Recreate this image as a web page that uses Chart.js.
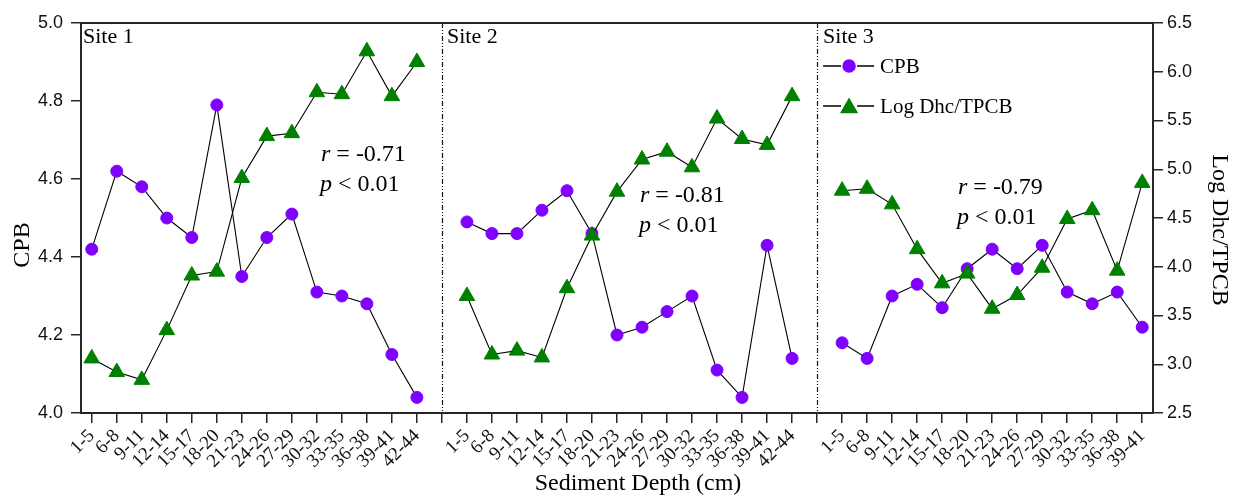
<!DOCTYPE html>
<html>
<head>
<meta charset="utf-8">
<script src="https://cdn.jsdelivr.net/npm/chart.js@4.4.1/dist/chart.umd.min.js"></script>
<style>
    body { margin: 0; background: #fff; }
    canvas { display: block; }
</style>
</head>
<body>
<canvas id="depthChart" width="1243" height="500"></canvas>
<script>
// depth intervals per site (cm)
const site1Labels = ['1-5', '6-8', '9-11', '12-14', '15-17', '18-20', '21-23', '24-26', '27-29', '30-32', '33-35', '36-38', '39-41', '42-44'];
const site2Labels = ['1-5', '6-8', '9-11', '12-14', '15-17', '18-20', '21-23', '24-26', '27-29', '30-32', '33-35', '36-38', '39-41', '42-44'];
const site3Labels = ['1-5', '6-8', '9-11', '12-14', '15-17', '18-20', '21-23', '24-26', '27-29', '30-32', '33-35', '36-38', '39-41'];

// CPB (left axis)
const cpbSite1 = [4.42, 4.62, 4.58, 4.50, 4.45, 4.79, 4.35, 4.45, 4.51, 4.31, 4.30, 4.28, 4.15, 4.04];
const cpbSite2 = [4.49, 4.46, 4.46, 4.52, 4.57, 4.46, 4.20, 4.22, 4.26, 4.30, 4.11, 4.04, 4.43, 4.14];
const cpbSite3 = [4.18, 4.14, 4.30, 4.33, 4.27, 4.37, 4.42, 4.37, 4.43, 4.31, 4.28, 4.31, 4.22];

// Log Dhc/TPCB (right axis)
const logSite1 = [3.06, 2.92, 2.84, 3.35, 3.91, 3.95, 4.91, 5.34, 5.37, 5.79, 5.77, 6.21, 5.75, 6.10];
const logSite2 = [3.70, 3.10, 3.14, 3.07, 3.78, 4.32, 4.77, 5.10, 5.18, 5.02, 5.52, 5.31, 5.25, 5.75];
const logSite3 = [4.78, 4.80, 4.64, 4.18, 3.83, 3.93, 3.57, 3.71, 3.99, 4.49, 4.58, 3.96, 4.86];

const siteNames = ['Site 1', 'Site 2', 'Site 3'];
const rValues = ['-0.71', '-0.81', '-0.79'];
const pValues = ['0.01', '0.01', '0.01'];

const cpbTicks = [4.0, 4.2, 4.4, 4.6, 4.8, 5.0];
const logTicks = [2.5, 3.0, 3.5, 4.0, 4.5, 5.0, 5.5, 6.0, 6.5];

const PURPLE = '#8000ff';
const GREEN = '#008000';
const AXIS = '#262626';
const SERIF = '"Liberation Serif", "Times New Roman", serif';
const SANS = '"Liberation Sans", Arial, sans-serif';

// one slot per depth, plus an empty slot where the sites are split
const xLabels = [...site1Labels, '', ...site2Labels, '', ...site3Labels];
const dividers = [site1Labels.length, site1Labels.length + 1 + site2Labels.length];
const siteStarts = [0, dividers[0] + 1, dividers[1] + 1];

function joinSites(a, b, c) {
    const out = [];
    [a, b, c].forEach((vals, s) => {
        vals.forEach((v, i) => out.push({ x: siteStarts[s] + i, y: v }));
        if (s < 2) out.push({ x: dividers[s], y: null });
    });
    return out;
}

function drawRP(ctx, x, y, letter, rest) {
    ctx.font = 'italic 24px ' + SERIF;
    ctx.fillText(letter, x, y);
    const w = ctx.measureText(letter).width;
    ctx.font = '24px ' + SERIF;
    ctx.fillText(rest, x + w, y);
}

const panelPlugin = {
    id: 'panels',
    beforeDatasetsDraw(chart) {
        const { ctx, chartArea: a, scales } = chart;
        ctx.save();
        ctx.strokeStyle = '#111';
        ctx.lineWidth = 1.2;
        ctx.setLineDash([5, 2, 1, 2, 1, 2]);
        dividers.forEach(d => {
            const px = Math.round(scales.x.getPixelForValue(d)) + 0.5;
            ctx.beginPath();
            ctx.moveTo(px, a.top);
            ctx.lineTo(px, a.bottom);
            ctx.stroke();
        });
        ctx.restore();
    },
    afterDraw(chart) {
        const { ctx, chartArea: a, scales } = chart;
        ctx.save();

        // top frame line
        ctx.strokeStyle = AXIS;
        ctx.lineWidth = 2;
        ctx.beginPath();
        ctx.moveTo(a.left, a.top);
        ctx.lineTo(a.right, a.top);
        ctx.stroke();

        ctx.fillStyle = '#000';
        ctx.textBaseline = 'alphabetic';
        ctx.textAlign = 'left';

        // site names
        ctx.font = '22px ' + SERIF;
        const nameX = [a.left + 2, scales.x.getPixelForValue(dividers[0]) + 5, scales.x.getPixelForValue(dividers[1]) + 6];
        siteNames.forEach((n, i) => ctx.fillText(n, nameX[i], a.top + 20));

        // correlation notes
        const notePos = [[321, 161], [640, 202], [958, 194]];
        notePos.forEach(([x, y], i) => {
            drawRP(ctx, x, y, 'r', ' = ' + rValues[i]);
            drawRP(ctx, x - 1, y + 30, 'p', ' < ' + pValues[i]);
        });

        // legend inside the site 3 panel
        const lx = scales.x.getPixelForValue(dividers[1]) + 6;
        const rows = [
            { y: 66, label: 'CPB', style: 'circle', radius: 6, color: PURPLE },
            { y: 106, label: 'Log Dhc/TPCB', style: 'triangle', radius: 9, color: GREEN }
        ];
        ctx.font = '21px ' + SERIF;
        ctx.textBaseline = 'middle';
        rows.forEach(r => {
            ctx.strokeStyle = '#000';
            ctx.lineWidth = 1.5;
            ctx.beginPath();
            ctx.moveTo(lx, r.y); ctx.lineTo(lx + 18, r.y);
            ctx.moveTo(lx + 34, r.y); ctx.lineTo(lx + 51, r.y);
            ctx.stroke();
            ctx.fillStyle = r.color;
            ctx.strokeStyle = r.color;
            const cy = r.style === 'triangle' ? r.y + 2 : r.y;
            Chart.helpers.drawPoint(ctx, { pointStyle: r.style, radius: r.radius, borderWidth: 1, rotation: 0 }, lx + 26, cy);
            ctx.fillStyle = '#000';
            ctx.fillText(r.label, lx + 57, r.y + 1);
        });

        // axis titles
        ctx.textBaseline = 'alphabetic';
        ctx.textAlign = 'center';
        ctx.font = '24px ' + SERIF;
        ctx.fillText('Sediment Depth (cm)', (a.left + a.right) / 2 + 21, 490);

        ctx.save();
        ctx.translate(29, (a.top + a.bottom) / 2 + 27);
        ctx.rotate(-Math.PI / 2);
        ctx.fillText('CPB', 0, 0);
        ctx.restore();

        ctx.save();
        ctx.translate(1213, (a.top + a.bottom) / 2 + 12);
        ctx.rotate(Math.PI / 2);
        ctx.fillText('Log Dhc/TPCB', 0, 0);
        ctx.restore();

        ctx.restore();
    }
};

const ctx = document.getElementById('depthChart').getContext('2d');

const chart = new Chart(ctx, {
    type: 'line',
    data: {
        datasets: [{
            label: 'Log Dhc/TPCB',
            data: joinSites(logSite1, logSite2, logSite3),
            yAxisID: 'y2',
            order: 0,
            borderColor: '#000',
            borderWidth: 1.1,
            pointStyle: 'triangle',
            pointRadius: 9,
            pointBackgroundColor: GREEN,
            pointBorderColor: GREEN,
            pointBorderWidth: 1,
            spanGaps: false,
            tension: 0
        }, {
            label: 'CPB',
            data: joinSites(cpbSite1, cpbSite2, cpbSite3),
            yAxisID: 'y',
            order: 1,
            borderColor: '#000',
            borderWidth: 1.1,
            pointStyle: 'circle',
            pointRadius: 6,
            pointBackgroundColor: PURPLE,
            pointBorderColor: PURPLE,
            pointBorderWidth: 1,
            spanGaps: false,
            tension: 0
        }]
    },
    options: {
        responsive: false,
        devicePixelRatio: 1,
        animation: false,
        layout: { padding: { top: 23, left: 0, right: 0, bottom: 0 } },
        plugins: {
            legend: { display: false },
            tooltip: { enabled: false }
        },
        scales: {
            x: {
                type: 'linear',
                min: -0.43,
                max: xLabels.length - 1 + 0.43,
                afterBuildTicks: scale => {
                    scale.ticks = xLabels.map((_, i) => ({ value: i }));
                },
                afterFit: scale => { scale.height = 87; },
                border: { color: AXIS, width: 2 },
                grid: { drawOnChartArea: false, tickLength: 10, tickColor: AXIS, lineWidth: 1.5 },
                ticks: {
                    autoSkip: false,
                    minRotation: 45,
                    maxRotation: 45,
                    padding: 2,
                    color: '#111',
                    font: { family: SERIF, size: 19 },
                    callback: v => xLabels[v] || ''
                }
            },
            y: {
                position: 'left',
                min: 4.0,
                max: 5.0,
                afterBuildTicks: scale => {
                    scale.ticks = cpbTicks.map(v => ({ value: v }));
                },
                afterFit: scale => { scale.width = 81; },
                border: { color: AXIS, width: 2 },
                grid: { drawOnChartArea: false, tickLength: 10, tickColor: AXIS, lineWidth: 1.5 },
                ticks: {
                    padding: 8,
                    color: '#111',
                    font: { family: SANS, size: 18 },
                    callback: v => v.toFixed(1)
                }
            },
            y2: {
                position: 'right',
                min: 2.5,
                max: 6.5,
                afterBuildTicks: scale => {
                    scale.ticks = logTicks.map(v => ({ value: v }));
                },
                afterFit: scale => { scale.width = 90; },
                border: { color: AXIS, width: 2 },
                grid: { drawOnChartArea: false, tickLength: 10, tickColor: AXIS, lineWidth: 1.5 },
                ticks: {
                    padding: 4,
                    color: '#111',
                    font: { family: SANS, size: 18 },
                    callback: v => v.toFixed(1)
                }
            }
        }
    },
    plugins: [panelPlugin]
});
</script>
</body>
</html>
